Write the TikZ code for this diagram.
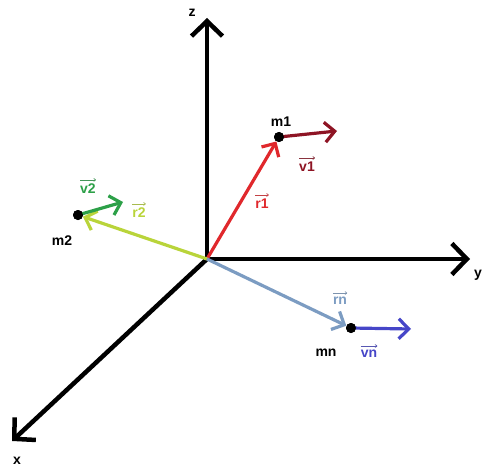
\documentclass[tikz,border=0pt]{standalone}
\usepackage{fontspec}
\setmainfont{Liberation Sans}
\usetikzlibrary{arrows.meta}
\definecolor{rone}{HTML}{E0282C}
\definecolor{vone}{HTML}{8E1424}
\definecolor{rtwo}{HTML}{B9D43A}
\definecolor{vtwo}{HTML}{2CA048}
\definecolor{rnc}{HTML}{7C9CC2}
\definecolor{vnc}{HTML}{4646C8}
\tikzset{
  axis/.style={line width=4.5pt,-{Straight Barb[length=15pt,width=31pt,line width=4.5pt]}},
  vecarrow/.style={line width=3.2pt,-{Straight Barb[length=10pt,width=20pt,line width=3.2pt]}},
  lbl/.style={font=\bfseries\fontsize{14}{15}\selectfont,inner sep=0pt},
  vlbl/.style={font=\bfseries\fontsize{14}{15}\selectfont,inner sep=0pt},
  overarrow/.style={line width=0.7pt,-{To[length=2.5pt,width=3.5pt]}},
  dot/.style={circle,fill=black,inner sep=0pt,minimum size=10pt}
}
\begin{document}
\begin{tikzpicture}[x=1pt,y=-1pt]
\useasboundingbox (0,0) rectangle (482,468);
\coordinate (O) at (207,259);
\coordinate (zt) at (207,18);
\coordinate (yt) at (470,259);
\coordinate (xt) at (12,441);
\draw[axis] (O) -- (zt);
\draw[axis] (O) -- (yt);
\draw[axis] (O) -- (xt);
\node[lbl] (zl) at (192,13) {z};
\node[lbl] (yl) at (478,275) {y};
\node[lbl] (xl) at (17,461) {x};
% masses
\node[dot] (m1) at (279,137) {};
\node[dot] (m2) at (78,215) {};
\node[dot] (mn) at (351,328) {};
\coordinate (v1t) at (337,131);
\coordinate (v2t) at (123,202);
\coordinate (vnt) at (411,329);
% position vectors
\draw[vecarrow,rone] (O) -- (m1);
\draw[vecarrow,rtwo] (O) -- (m2);
\draw[vecarrow,rnc] (O) -- (mn);
% velocity vectors
\draw[vecarrow,vone] (m1.center) -- (v1t);
\draw[vecarrow,vtwo] (m2.center) -- (v2t);
\draw[vecarrow,vnc] (mn.center) -- (vnt);
\node[dot] at (m1) {};
\node[dot] at (m2) {};
\node[dot] at (mn) {};
% labels
\node[lbl] (m1l) at (281,122) {m1};
\node[lbl] (m2l) at (62,241) {m2};
\node[lbl] (mnl) at (326,353) {mn};
\node[vlbl,text=rone] (r1l) at (262,204) {r1};
\node[vlbl,text=vone] (v1l) at (307,167) {v1};
\node[vlbl,text=vtwo] (v2l) at (88,189) {v2};
\node[vlbl,text=rtwo] (r2l) at (139,213) {r2};
\node[vlbl,text=rnc] (rnl) at (340,301) {rn};
\node[vlbl,text=vnc] (vnl) at (369,354) {vn};
\foreach \n/\c in {r1l/rone,v1l/vone,v2l/vtwo,r2l/rtwo,rnl/rnc,vnl/vnc}{
  \draw[overarrow,\c!70!gray] ([yshift=4pt]\n.north west) -- ([yshift=4pt]\n.north east);
}
\end{tikzpicture}
\end{document}
